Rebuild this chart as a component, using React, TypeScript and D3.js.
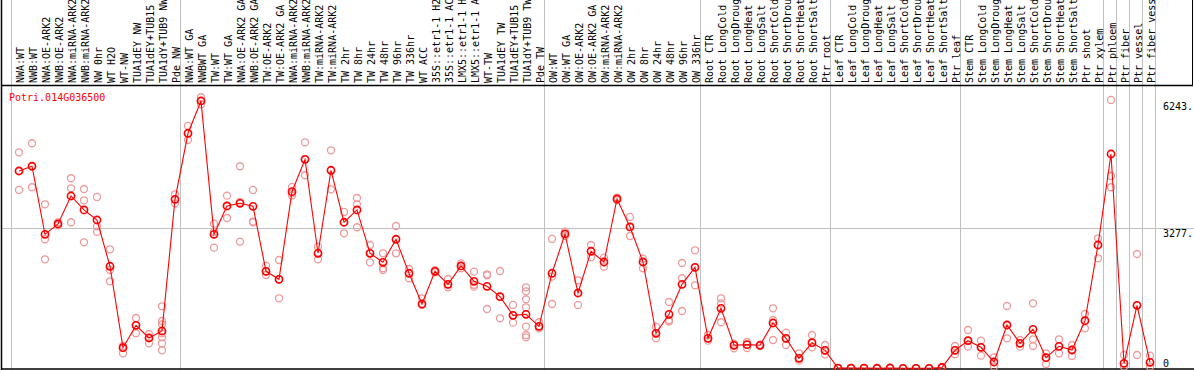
import React from "react";
import * as d3 from "d3";

const geneName = "Potri.014G036500";

const categories = [
  "NWA:WT", "NWB:WT", "NWA:OE-ARK2", "NWB:OE-ARK2", "NWA:miRNA-ARK2", "NWB:miRNA-ARK2", "NW 0hr", "WT H2O", "WT-NW", "TUA1dEY NW", "TUA1dEY+TUB15 NW", "TUA1dY+TUB9 NW", "Pde NW",
  "NWA:WT GA", "NWBWT GA", "TW:WT", "TW:WT GA", "NWA:OE-ARK2 GA", "NWB:OE-ARK2 GA", "TW:OE-ARK2", "TW:OE-ARK2 GA", "NWA:miRNA-ARK2", "NWB:miRNA-ARK2", "TW:miRNA-ARK2", "TW:miRNA-ARK2",
  "TW 2hr", "TW 8hr", "TW 24hr", "TW 48hr", "TW 96hr", "TW 336hr", "WT ACC", "35S::etr1-1 H2O", "35S::etr1-1 ACC", "LMX5::etr1-1 H2O", "LMX5::etr1-1 ACC", "WT-TW", "TUA1dEY TW", "TUA1dEY+TUB15 TW", "TUA1dY+TUB9 TW", "Pde TW",
  "OW:WT", "OW:WT GA", "OW:OE-ARK2", "OW:OE-ARK2 GA", "OW:miRNA-ARK2", "OW:miRNA-ARK2", "OW 2hr", "OW 8hr", "OW 24hr", "OW 48hr", "OW 96hr", "OW 336hr",
  "Root CTR", "Root LongCold", "Root LongDrought", "Root LongHeat", "Root LongSalt", "Root ShortCold", "Root ShortDrought", "Root ShortHeat", "Root ShortSalt", "Ptr root",
  "Leaf CTR", "Leaf LongCold", "Leaf LongDrought", "Leaf LongHeat", "Leaf LongSalt", "Leaf ShortCold", "Leaf ShortDrought", "Leaf ShortHeat", "Leaf ShortSalt", "Ptr leaf",
  "Stem CTR", "Stem LongCold", "Stem LongDrought", "Stem LongHeat", "Stem LongSalt", "Stem ShortCold", "Stem ShortDrought", "Stem ShortHeat", "Stem ShortSalt", "Ptr shoot", "Ptr xylem",
  "Ptr phloem", "Ptr fiber", "Ptr vessel", "Ptr fiber vessel",
];

// index of first category of each group (plus end)
const groupStarts = [0, 13, 41, 53, 63, 73, 84, 85, 86, 87, 88];

const means = [
  4623, 4734, 3141, 3383, 4038, 3711, 3476, 2393, 487, 1011, 714, 878, 3961,
  5506, 6262, 3141, 3804, 3867, 3797, 2275, 2088, 4139, 4897, 2697, 4640,
  3423, 3711, 2697, 2486, 3025, 2229, 1510, 2275, 1971, 2400, 2041, 1924, 1681, 1245, 1269, 988,
  2229, 3149, 1767, 2744, 2493, 3968, 3313, 2493, 824, 1269, 1971, 2369,
  707, 1409, 543, 558, 543, 1065, 707, 239, 604, 426,
  8, 10, 8, 6, 12, 5, 5, 5, 25, 426,
  651, 496, 152, 1018, 590, 918, 253, 519, 433, 1119, 2891,
  5021, 122, 1479, 145,
];

const replicates = [
  [5061, 4623, 4179], [5272, 4734, 4242], [3844, 3025, 2556], [3350, 3383, 3420], [4453, 4218, 3423], [4202, 3937, 2954], [4015, 3330, 3200], [2790, 2306, 2041], [527, 356, 480], [1182, 824, 1011], [808, 590, 714], [1456, 1112, 1035, 824, 730, 590, 426], [4078, 3867, 3961],
  [5677, 5349, 5506], [6349, 6185, 6262], [3390, 3200, 2828], [4045, 3523, 3804], [4734, 3900, 2968], [4179, 3423, 3440], [2407, 2189, 2275], [2540, 1643, 2088], [4250, 4100, 4050], [5295, 4523, 4897], [2851, 2556, 2697], [5108, 4195, 4640],
  [3664, 3165, 3423], [3991, 3844, 3306], [2891, 2486, 2697], [2697, 2346, 2306], [3336, 2697, 3025], [2329, 2112, 2229], [1643, 1487, 1510], [2300, 2250, 2275], [2095, 1901, 1971], [2462, 2346, 2400], [2267, 1916, 1960], [2205, 2180, 1393], [2282, 1175, 1681], [1487, 1073, 1245], [1901, 1807, 1620, 1433, 979, 784, 730], [1082, 941, 988],
  [3032, 2149, 1510], [3203, 3149, 3100], [2065, 1487, 1767], [2891, 2603, 2744], [2594, 2383, 2493], [4000, 3940, 3968], [3547, 3102, 3313], [2571, 2346, 2493], [979, 707, 824], [1557, 1135, 1100], [2470, 2112, 1346], [2767, 1948, 2369],
  [784, 651, 707], [1643, 1526, 1082], [580, 473, 543], [620, 480, 558], [560, 530, 543], [1409, 1135, 667], [838, 550, 707], [356, 183, 239], [784, 496, 604], [550, 332, 426],
  [5, 10, 8], [12, 8, 10], [5, 10, 8], [4, 8, 6], [15, 10, 12], [3, 6, 5], [3, 6, 5], [3, 6, 5], [35, 20, 25], [527, 332, 426],
  [901, 511, 651], [651, 300, 496], [262, 42, 152], [1463, 707, 1018], [667, 511, 590], [1526, 684, 527], [356, 105, 253], [684, 356, 519], [550, 293, 433], [1276, 941, 1119], [3048, 2580, 2891],
  [6286, 4506, 4242], [316, 42, 122], [2680, 316, 1479], [300, 42, 145],
];

const yTicks = [6243, 3277, 0];
const yTickLabels = ["6243.", "3277.", "0"];

const W = 1194;
const H = 370;
const MONO = "'DejaVu Sans Mono', 'Liberation Mono', monospace";

export default function App() {
  const x = d3.scaleLinear().domain([0, categories.length - 1]).range([19, 19 + 13 * (categories.length - 1)]);
  const y = d3.scaleLinear().domain([0, 3277]).range([368.5, 228.5]);
  const line = d3.line<number>().x((_, i) => x(i)).y((d) => y(d));

  const plotTop = 85;
  const plotBottom = 369;

  return (
    <svg
      width={W}
      height={H}
      style={{ position: "absolute", left: 0, top: 0, background: "#fff" }}
      fontFamily={MONO}
    >
      <rect x={0} y={0} width={W} height={H} fill="#fff" />
      {/* vertical group gridlines */}
      {groupStarts.map((g) => (
        <line key={"g" + g} x1={Math.round(x(g) - 8) + 0.5} x2={Math.round(x(g) - 8) + 0.5} y1={0} y2={plotBottom} stroke="#c0c0c0" strokeWidth={1} />
      ))}
      {/* horizontal gridline at middle tick */}
      <line x1={1} x2={W} y1={y(3277)} y2={y(3277)} stroke="#c0c0c0" strokeWidth={1} />

      {/* frame */}
      <line x1={1.5} x2={1.5} y1={0} y2={plotBottom + 1} stroke="#000" strokeWidth={1.5} />
      <line x1={1} x2={1193} y1={plotTop + 0.5} y2={plotTop + 0.5} stroke="#000" strokeWidth={1.5} />
      <line x1={1} x2={W} y1={plotBottom} y2={plotBottom} stroke="#000" strokeWidth={1.5} />
      <line x1={1192.5} x2={1192.5} y1={0} y2={plotTop} stroke="#000" strokeWidth={1} />

      {/* category labels */}
      {categories.map((c, i) => (
        <text
          key={"c" + i}
          transform={`translate(${x(i) + 4.5},83) rotate(-90)`}
          fontSize={10}
          fill="#000"
        >
          {c}
        </text>
      ))}

      {/* y tick labels */}
      {yTicks.map((t, i) => (
        <text
          key={"t" + i}
          x={1163}
          y={t === 0 ? 367 : y(t) + 8}
          fontSize={10}
          fill="#000"
        >
          {yTickLabels[i]}
        </text>
      ))}

      <text x={9} y={101} fontSize={10} fill="#ff0000">{geneName}</text>

      {/* replicates */}
      {replicates.map((reps, i) =>
        reps.map((v, j) => (
          <circle key={`r${i}-${j}`} cx={x(i)} cy={y(v)} r={3.5} fill="none" stroke="#ec9a9a" strokeWidth={1.3} />
        ))
      )}

      {/* mean line */}
      <path d={line(means) || ""} fill="none" stroke="#ff0000" strokeWidth={1.1} />

      {/* mean markers */}
      {means.map((v, i) => (
        <circle key={"m" + i} cx={x(i)} cy={y(v)} r={3.6} fill="none" stroke="#ff0000" strokeWidth={1.6} />
      ))}
    </svg>
  );
}
